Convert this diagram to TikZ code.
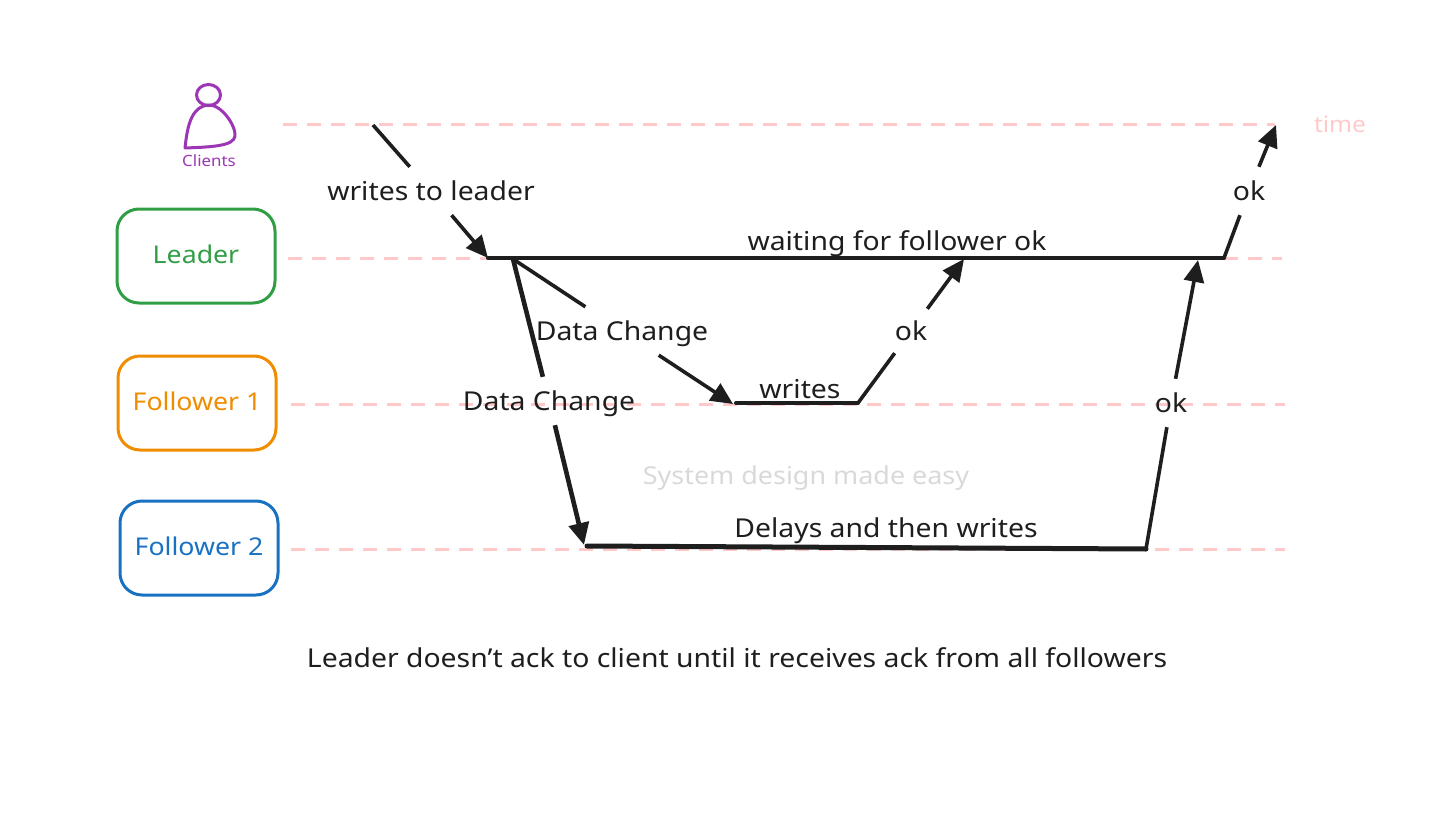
\documentclass[tikz,border=0pt]{standalone}
\usepackage{fontspec}
\setmainfont[FakeStretch=1.09]{Noto Sans}
\usetikzlibrary{arrows.meta}
\definecolor{timepink}{HTML}{FFC9C9}
\definecolor{leadgreen}{HTML}{2F9E44}
\definecolor{followorange}{HTML}{F08C00}
\definecolor{followblue}{HTML}{1971C2}
\definecolor{clientpurple}{HTML}{9C36B5}
\definecolor{inkblack}{HTML}{1E1E1E}
\tikzset{
    rolebox/.style={draw=#1,text=#1,line width=3pt,rounded corners=22pt,minimum width=158pt,minimum height=94pt,text depth=3pt,font=\fontsize{24.5}{28}\selectfont},
    timeline/.style={draw=timepink,line width=3pt,dash pattern=on 14pt off 10pt},
    msg/.style={inkblack,line width=3.6pt,-{Triangle[length=22pt,width=20pt]}},
    msgend/.style={inkblack,line width=3.6pt},
    busy/.style={inkblack,line width=4pt,line cap=round},
    lbl/.style={text=inkblack,font=\fontsize{26}{30}\selectfont,inner sep=0pt,text depth=0pt},
    gaplbl/.style={lbl,minimum height=48pt}
}
\begin{document}
\begin{tikzpicture}[x=1pt,y=-1pt]
    \useasboundingbox (0,0) rectangle (1456,824);
    % role boxes
    \node[rolebox=leadgreen] (leader) at (196,256) {Leader};
    \node[rolebox=followorange] (followerA) at (197,403) {Follower 1};
    \node[rolebox=followblue] (followerB) at (199,548) {Follower 2};
    % client figure
    \draw[clientpurple,line width=3pt] (208.5,95) circle[x radius=12pt,y radius=10.5pt];
    \draw[clientpurple,line width=3pt,line join=round] (185,148) .. controls (187,130) and (190,106) .. (209,105)
        .. controls (222,105) and (236,126) .. (235,136) .. controls (234,146) and (212,147) .. (185,148) -- cycle;
    \node[text=clientpurple,font=\fontsize{15.5}{18}\selectfont,inner sep=0pt] (clients) at (209,161) {Clients};
    % time lines
    \coordinate (clientS) at (283,125);
    \coordinate (clientE) at (1275,125);
    \coordinate (leaderS) at (288,258);
    \coordinate (leaderE) at (1282,258);
    \coordinate (followerAS) at (291,404);
    \coordinate (followerAE) at (1285,404);
    \coordinate (followerBS) at (291,549);
    \coordinate (followerBE) at (1285,549);
    \foreach \a/\b in {clientS/clientE,leaderS/leaderE,followerAS/followerAE,followerBS/followerBE}
        \draw[timeline] (\a)--(\b);
    \node[text=timepink,font=\fontsize{22.5}{28}\selectfont,inner sep=0pt] (timelbl) at (1340,124) {time};
    % events
    \coordinate (sendW) at (373,125);
    \coordinate (leadA) at (488,258);
    \coordinate (leadB) at (513,259);
    \coordinate (leadC) at (964,259);
    \coordinate (leadD) at (1198,260);
    \coordinate (leadE) at (1224,258);
    \coordinate (doneC) at (1276,125);
    \coordinate (oneA) at (733,404);
    \coordinate (oneB) at (736,403);
    \coordinate (oneC) at (858,403);
    \coordinate (twoA) at (584,545);
    \coordinate (twoB) at (587,546);
    \coordinate (twoC) at (1146,549);
    % labels that cut their arrow
    \node[gaplbl] (writesLeader) at (431,191) {writes to leader};
    \node[gaplbl] (changeA) at (622,331) {Data Change};
    \node[gaplbl] (changeB) at (549,401) {Data Change};
    \node[gaplbl] (okA) at (911,331) {ok};
    \node[gaplbl] (okB) at (1171,403) {ok};
    \node[gaplbl] (okC) at (1249,191) {ok};
    % arrows
    \draw[msgend] (sendW)--(writesLeader);
    \draw[msg] (writesLeader)--(leadA);
    \draw[msgend] (leadB)--(changeA);
    \draw[msg] (changeA)--(oneA);
    \draw[msgend,line width=4.6pt] (leadB)--(changeB);
    \draw[msg,line width=4.6pt] (changeB)--(twoA);
    \draw[msgend] (oneC)--(okA);
    \draw[msg] (okA)--(leadC);
    \draw[msgend] (twoC)--(okB);
    \draw[msg] (okB)--(leadD);
    \draw[msgend] (leadE)--(okC);
    \draw[msg] (okC)--(doneC);
    % busy spans
    \draw[busy] (leadA)--(leadE);
    \draw[busy] (oneB)--(oneC);
    \draw[busy,line width=5pt] (twoB)--(twoC);
    \node[lbl] (waiting) at (897,241) {waiting for follower ok};
    \node[lbl] (writesOne) at (800,389) {writes};
    \node[lbl] (delays) at (886,528) {Delays and then writes};
    \node[lbl,text=black!15,font=\fontsize{24.7}{30}\selectfont] (mark) at (806,475) {System design made easy};
    \node[lbl] (note) at (737,658) {Leader doesn't ack to client until it receives ack from all followers};
\end{tikzpicture}
\end{document}
